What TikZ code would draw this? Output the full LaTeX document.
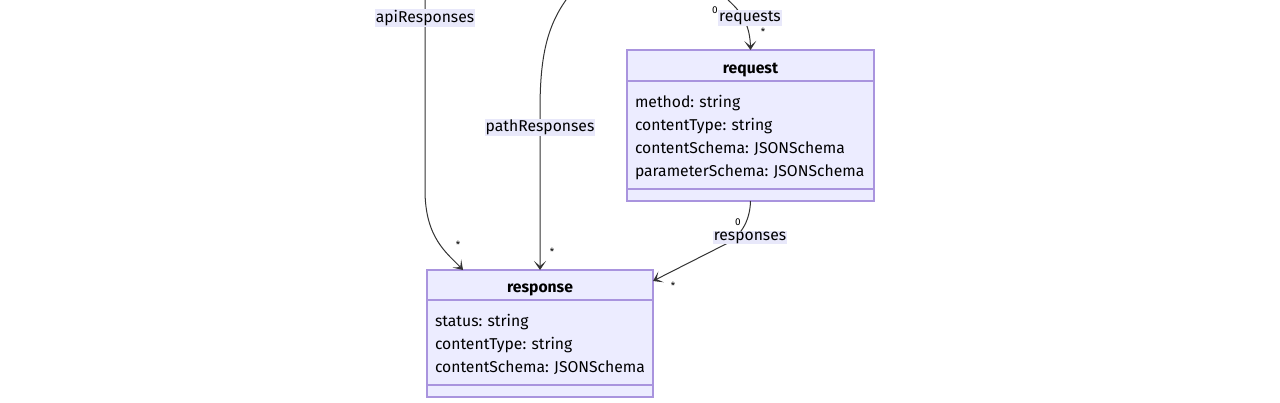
\documentclass[tikz,border=0pt]{standalone}
\usepackage{fontspec}
\setmainfont{Fira Sans}
\frenchspacing
\usetikzlibrary{arrows.meta,positioning}
\definecolor{class_fill}{HTML}{ECECFF}
\definecolor{class_line}{HTML}{A994DE}
\definecolor{edge_line}{HTML}{333333}
\definecolor{label_fill}{HTML}{E8E8FA}
\tikzset{
class_title/.style={rectangle, draw=class_line, fill=class_fill, line width=1.3pt, outer sep=0pt, minimum height=31pt, inner sep=0pt, text height=15pt, text depth=0pt, font=\fontsize{15.7}{17}\selectfont\bfseries},
class_attrs/.style={rectangle, draw=class_line, fill=class_fill, line width=1.3pt, outer sep=0pt, inner xsep=8pt, inner ysep=0pt, align=left, text height=26pt, font=\fontsize{15.7}{23}\selectfont},
class_foot/.style={rectangle, draw=class_line, fill=class_fill, line width=1.3pt, outer sep=0pt, minimum height=12pt, inner sep=0pt},
edge_label/.style={fill=label_fill, inner xsep=1pt, inner ysep=1pt, font=\fontsize{15.7}{17}\selectfont},
multiplicity/.style={inner sep=0pt, font=\fontsize{10}{10}\selectfont},
assoc/.style={draw=edge_line, line width=1pt, -{Stealth[length=9pt,width=12pt,inset=5pt]}}
}

\begin{document}
\begin{tikzpicture}[x=1pt,y=-1pt]
    \useasboundingbox (0,0) rectangle (1280,402);
    % request class
    \node[class_title, minimum width=247pt] (request_title) at (750.5,65.5) {request};
    \node[class_attrs, text width=231pt, text depth=82pt] (request_attrs) [below=0 of request_title] {method: string\\contentType: string\\contentSchema: JSONSchema\\parameterSchema: JSONSchema};
    \node[class_foot, minimum width=247pt] (request_foot) [below=0 of request_attrs] {};
    % response class
    \node[class_title, minimum width=226pt, minimum height=30pt] (response_title) at (540,285) {response};
    \node[class_attrs, text width=210pt, text depth=59pt] (response_attrs) [below=0 of response_title] {status: string\\contentType: string\\contentSchema: JSONSchema};
    \node[class_foot, minimum width=226pt] (response_foot) [below=0 of response_attrs] {};
    % free ends at the top
    \coordinate (api_top) at (425,0);
    \coordinate (path_top) at (566,0);
    \coordinate (req_top) at (728,0);
    % associations
    \draw[assoc] (api_top) -- (425,190) .. controls (425,238) and (447,253) .. ([xshift=36pt]response_title.north west);
    \draw[assoc] (path_top) .. controls (546,28) and (540,60) .. (540,110) -- (response_title.north);
    \draw[assoc] (req_top) .. controls (744,14) and (750,28) .. (request_title.north);
    \draw[assoc] (request_foot.south) .. controls (750,222) and (740,238) .. (722,246) -- ([yshift=-11pt]response_title.north east);
    % labels
    \node[edge_label] (api_label) at (425,18) {apiResponses};
    \node[edge_label] (path_label) at (540,127.5) {pathResponses};
    \node[edge_label] (req_label) at (750,18) {requests};
    \node[edge_label] (resp_label) at (750,237.5) {responses};
    \node[multiplicity] (api_many) at (458,245) {*};
    \node[multiplicity] (path_many) at (552,252) {*};
    \node[multiplicity] (req_zero) at (715,10) {0};
    \node[multiplicity] (req_many) at (763,32) {*};
    \node[multiplicity] (resp_zero) at (738,222) {0};
    \node[multiplicity] (resp_many) at (673,286) {*};
\end{tikzpicture}
\end{document}
